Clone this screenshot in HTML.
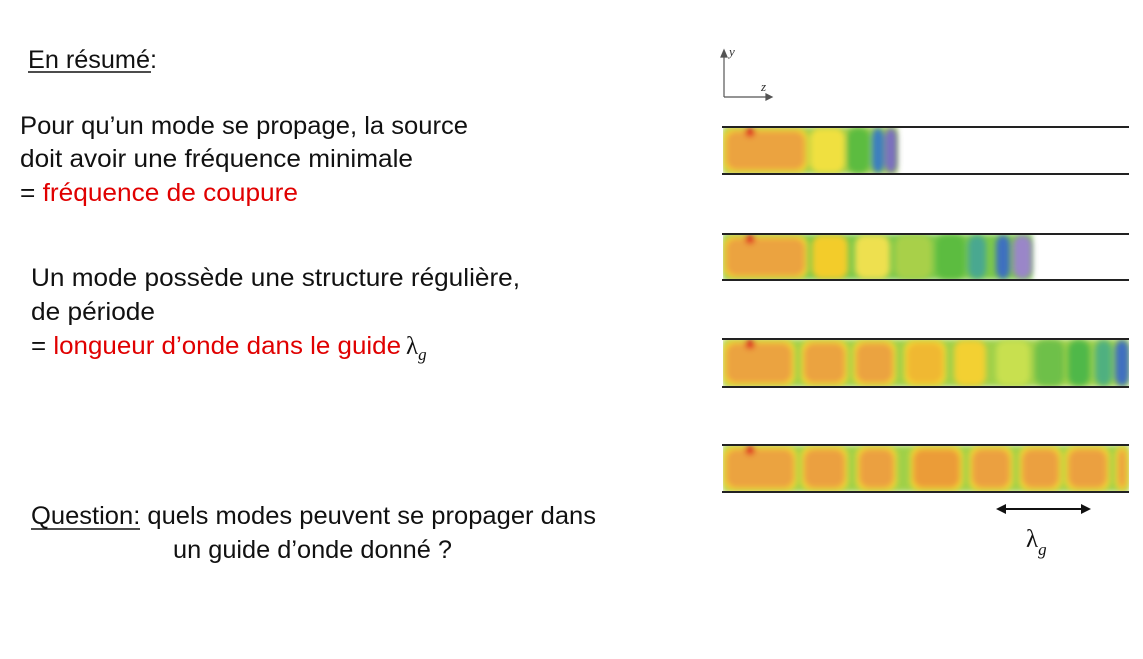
<!DOCTYPE html>
<html><head><meta charset="utf-8"><style>
html,body{margin:0;padding:0;background:#fff;width:1143px;height:659px;overflow:hidden}
svg{display:block}
text{font-family:"Liberation Sans",sans-serif;font-size:25px;fill:#111}
.r{fill:#e00000}
</style></head><body>
<svg width="1143" height="659" viewBox="0 0 1143 659">
<defs>
<filter id="bl" x="-20%" y="-20%" width="140%" height="140%"><feGaussianBlur stdDeviation="3"/></filter>
<clipPath id="c1"><rect x="723" y="128" width="420" height="45"/></clipPath>
<clipPath id="c2"><rect x="723" y="235" width="420" height="44"/></clipPath>
<clipPath id="c3"><rect x="723" y="340" width="406" height="46"/></clipPath>
<clipPath id="c4"><rect x="723" y="446" width="406" height="45"/></clipPath>
</defs>
<g>
<text x="28" y="68" textLength="129" lengthAdjust="spacingAndGlyphs">En résumé:</text>
<line x1="28" y1="72" x2="151" y2="72" stroke="#111" stroke-width="1.5"/>
<text x="20" y="134" textLength="448" lengthAdjust="spacingAndGlyphs">Pour qu’un mode se propage, la source</text>
<text x="20" y="167" textLength="393" lengthAdjust="spacingAndGlyphs">doit avoir une fréquence minimale</text>
<text x="20" y="201" textLength="278" lengthAdjust="spacingAndGlyphs">= <tspan class="r">fréquence de coupure</tspan></text>
<text x="31" y="286" textLength="489" lengthAdjust="spacingAndGlyphs">Un mode possède une structure régulière,</text>
<text x="31" y="320" textLength="124" lengthAdjust="spacingAndGlyphs">de période</text>
<text x="31" y="354" textLength="370" lengthAdjust="spacingAndGlyphs">= <tspan class="r">longueur d’onde dans le guide</tspan></text>
<text x="406" y="354" style="font-family:'Liberation Serif',serif;font-size:25px">λ<tspan dy="6" font-size="17" font-style="italic">g</tspan></text>
<text x="31" y="524" textLength="565" lengthAdjust="spacingAndGlyphs">Question: quels modes peuvent se propager dans</text>
<line x1="31" y1="529" x2="140" y2="529" stroke="#111" stroke-width="1.5"/>
<text x="173" y="558" textLength="279" lengthAdjust="spacingAndGlyphs">un guide d’onde donné ?</text>
</g>
<g stroke="#555" stroke-width="1.2" fill="#555">
<line x1="724" y1="56" x2="724" y2="97"/><polygon points="721,57 727,57 724,50"/>
<line x1="724" y1="97" x2="766" y2="97"/><polygon points="766,94 766,100 772,97"/>
<text x="729" y="56" style="font-family:'Liberation Serif',serif;font-size:13px;font-style:italic;fill:#333;stroke:none">y</text>
<text x="761" y="91" style="font-family:'Liberation Serif',serif;font-size:13px;font-style:italic;fill:#333;stroke:none">z</text>
</g>
<g id="guides"></g>
<g>
<line x1="1002" y1="509" x2="1084" y2="509" stroke="#111" stroke-width="2"/>
<polygon points="996,509 1006,504 1006,514" fill="#111"/><polygon points="1091,509 1081,504 1081,514" fill="#111"/>
<text x="1026" y="547" style="font-family:'Liberation Serif',serif;font-size:25px">λ<tspan dy="8" font-size="17" font-style="italic">g</tspan></text>
</g>
</svg>
<script>
// guides: [top, bottom]; cells: [x0, x1, color]
const guideTops=[127,234,339,445];
const guideBottoms=[174,280,387,492];
const guideEnds=[897,1032,1129,1129];
const cells=[
 [[723,808,"#eba340"],[810,845,"#f0e040"],[847,870,"#5cbc40"],[872,884,"#3a7ec0"],[885,897,"#7a70c0"]],
 [[723,808,"#eba340"],[812,848,"#f3cc2a"],[855,890,"#eee050"],[895,932,"#a8d048"],[936,965,"#5cbc40"],[968,986,"#48a890"],[996,1010,"#3c70c0"],[1013,1032,"#9a86c8"]],
 [[723,795,"#eba340"],[801,848,"#eba340"],[853,896,"#eba340"],[904,946,"#f0b830"],[954,986,"#f3d030"],[996,1030,"#c8e050"],[1035,1064,"#6ec048"],[1068,1090,"#50b848"],[1095,1112,"#50b080"],[1115,1129,"#4070c0"]],
 [[723,797,"#eba340"],[801,848,"#eba040"],[856,897,"#eba040"],[910,963,"#eb9c38"],[969,1013,"#eba040"],[1019,1062,"#eba040"],[1065,1110,"#eba040"],[1115,1129,"#eba040"]]
];
const g=document.getElementById('guides');
const NS='http://www.w3.org/2000/svg';
for(let i=0;i<4;i++){
 const t=guideTops[i],b=guideBottoms[i];
 const grp=document.createElementNS(NS,'g');
 
 
 const fg=document.createElementNS(NS,'g');
 fg.setAttribute('clip-path','url(#c'+(i+1)+')');
 const bg=document.createElementNS(NS,'rect');
 bg.setAttribute('x',723);bg.setAttribute('y',t);bg.setAttribute('width',guideEnds[i]-723);bg.setAttribute('height',b-t);
 bg.setAttribute('fill',i===0?"#9ccc48":(i<2?"#7cc848":"#9fd048"));bg.setAttribute('filter','url(#bl)');
 fg.appendChild(bg);
 const glow=document.createElementNS(NS,'g');glow.setAttribute('filter','url(#bl)');
 cells[i].forEach((c,k)=>{
  const warm=c[2]=="#eba040"||c[2]=="#eba340"||c[2]=="#eb9c38"||c[2]=="#f0b830";
  const halo=document.createElementNS(NS,'rect');
  halo.setAttribute('x',c[0]);halo.setAttribute('y',t+1);halo.setAttribute('width',c[1]-c[0]);halo.setAttribute('height',b-t-2);
  halo.setAttribute('rx',10);halo.setAttribute('fill',warm?"#f7d830":c[2]);
  
  
  glow.appendChild(halo);
  const r=document.createElementNS(NS,'rect');
  r.setAttribute('x',c[0]+3);r.setAttribute('y',t+4);r.setAttribute('width',Math.max(2,c[1]-c[0]-6));r.setAttribute('height',b-t-8);
  r.setAttribute('rx',10);r.setAttribute('fill',c[2]);
  
  
  glow.appendChild(r);
 });
 const src=document.createElementNS(NS,'circle');
 src.setAttribute('cx',750);src.setAttribute('cy',t+5);src.setAttribute('r',5);src.setAttribute('fill','#e02020');
 
 
 glow.appendChild(src);
 fg.appendChild(glow);
 grp.appendChild(fg);
 [t,b].forEach(y=>{
  const l=document.createElementNS(NS,'line');
  l.setAttribute('x1',722);l.setAttribute('x2',1129);l.setAttribute('y1',y);l.setAttribute('y2',y);
  l.setAttribute('stroke','#222');l.setAttribute('stroke-width',2);
  
  
  grp.appendChild(l);
 });
 g.appendChild(grp);
}
</script>
</body></html>
